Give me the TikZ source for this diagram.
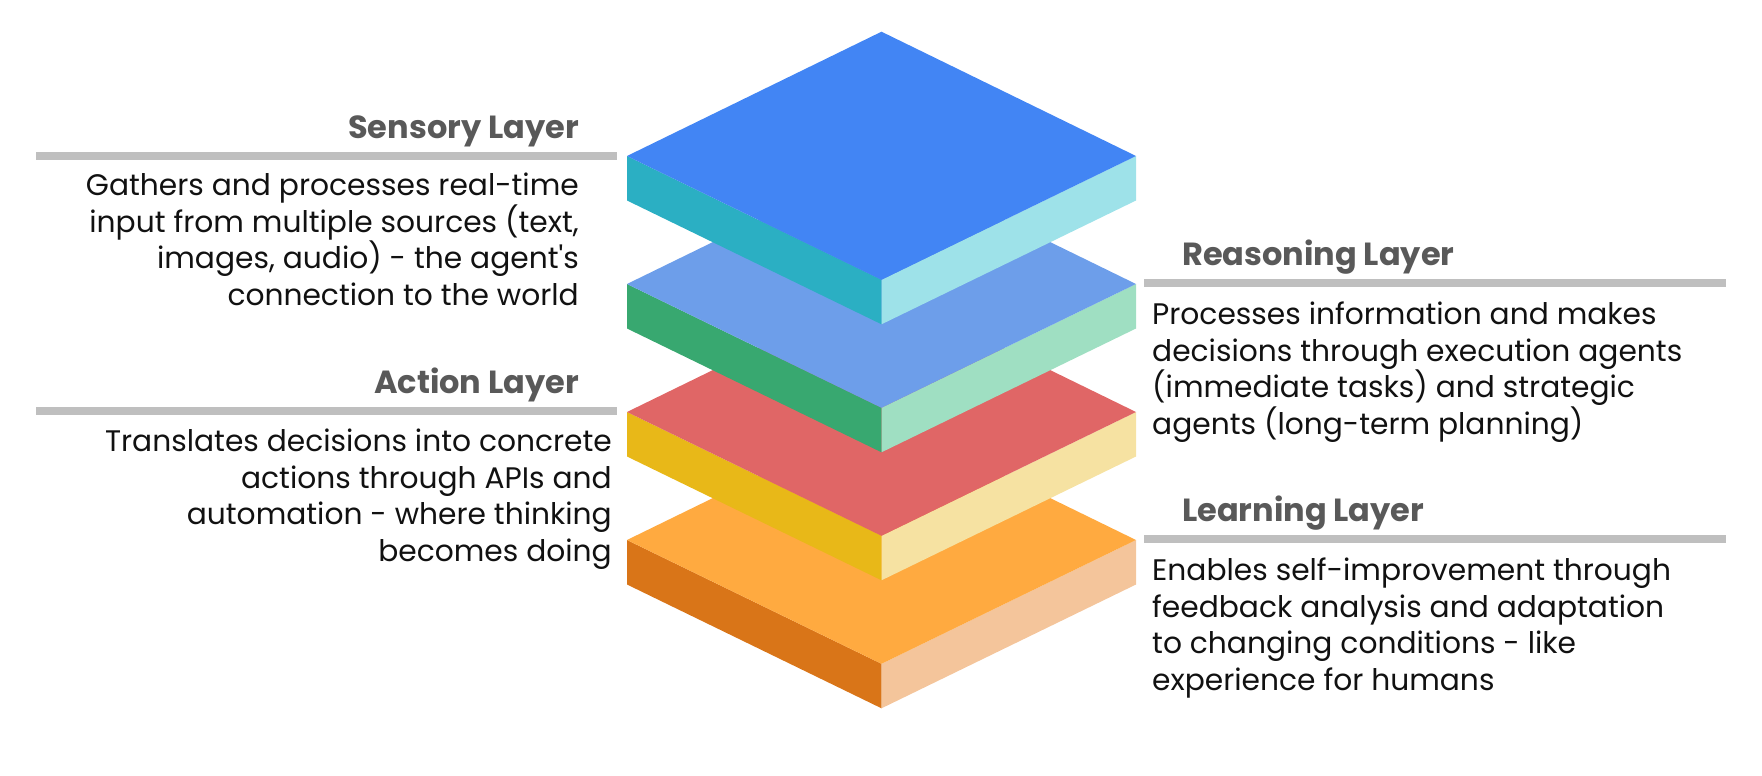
\documentclass[tikz,border=0pt]{standalone}
\usepackage{fontspec}
\setmainfont{Poppins}
\definecolor{sensTop}{HTML}{4285F4}
\definecolor{sensL}{HTML}{2BAFC3}
\definecolor{sensR}{HTML}{9EE2E9}
\definecolor{reasTop}{HTML}{6D9EEA}
\definecolor{reasL}{HTML}{38A870}
\definecolor{reasR}{HTML}{9FDFC2}
\definecolor{actTop}{HTML}{E06666}
\definecolor{actL}{HTML}{E8B818}
\definecolor{actR}{HTML}{F6E2A2}
\definecolor{lrnTop}{HTML}{FFAA40}
\definecolor{lrnL}{HTML}{D97518}
\definecolor{lrnR}{HTML}{F4C59B}
\definecolor{ruleGray}{HTML}{BFBFBF}
\definecolor{titleGray}{HTML}{595959}
\definecolor{bodyText}{HTML}{111111}
\tikzset{
  ttl/.style={inner sep=0pt, text=titleGray, font=\fontsize{32}{38}\selectfont\bfseries},
  bodyR/.style={inner sep=0pt, text=bodyText, align=right, font=\fontsize{29.7}{36.8}\selectfont},
  bodyL/.style={inner sep=0pt, text=bodyText, align=left, font=\fontsize{29.7}{36.8}\selectfont},
  rulebar/.style={draw=ruleGray, line width=8pt},
}
\begin{document}
\begin{tikzpicture}[x=1pt,y=-1pt]
\useasboundingbox (0,0) rectangle (1762,776);
% slabs, bottom first
\foreach \d/\ct/\cl/\cr in {384/lrnTop/lrnL/lrnR, 256/actTop/actL/actR, 128/reasTop/reasL/reasR, 0/sensTop/sensL/sensR}{
  \coordinate (L) at (627,156+\d);
  \coordinate (T) at (881.5,31.7+\d);
  \coordinate (R) at (1136,156+\d);
  \coordinate (F) at (881.5,279.8+\d);
  \fill[\cl] (L) -- (F) -- ([yshift=-44.5pt]F) -- ([yshift=-44.5pt]L) -- cycle;
  \fill[\cr] (F) -- (R) -- ([yshift=-44.5pt]R) -- ([yshift=-44.5pt]F) -- cycle;
  \fill[\ct] (L) -- (T) -- (R) -- (F) -- cycle;
}
% rules
\coordinate (s1) at (36,156); \coordinate (s2) at (617,156);
\coordinate (r1) at (1144,283); \coordinate (r2) at (1726,283);
\coordinate (a1) at (36,411); \coordinate (a2) at (617,411);
\coordinate (l1) at (1144,539); \coordinate (l2) at (1726,539);
\draw[rulebar] (s1) -- (s2);
\draw[rulebar] (r1) -- (r2);
\draw[rulebar] (a1) -- (a2);
\draw[rulebar] (l1) -- (l2);
% titles
\node[ttl, anchor=base east] (st) at (579,138) {Sensory Layer};
\node[ttl, anchor=base west] (rt) at (1182,265) {Reasoning Layer};
\node[ttl, anchor=base east] (at) at (579,393) {Action Layer};
\node[ttl, anchor=base west] (lt) at (1182,521) {Learning Layer};
% bodies
\node[bodyR, anchor=north east] (sb) at (579,172.5) {Gathers and processes real-time\\input from multiple sources (text,\\images, audio) - the agent\textquotesingle s\\connection to the world};
\node[bodyL, anchor=north west] (rb) at (1152,301.5) {Processes information and makes\\decisions through execution agents\\(immediate tasks) and strategic\\agents (long-term planning)};
\node[bodyR, anchor=north east] (ab) at (612,428.5) {Translates decisions into concrete\\actions through APIs and\\automation - where thinking\\becomes doing};
\node[bodyL, anchor=north west] (lb) at (1152,557.5) {Enables self-improvement through\\feedback analysis and adaptation\\to changing conditions - like\\experience for humans};
\end{tikzpicture}
\end{document}
